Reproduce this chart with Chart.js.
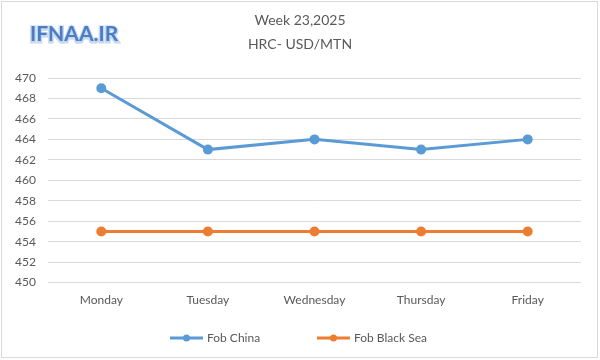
<!DOCTYPE html>
<html><head><meta charset="utf-8">
<script src="https://cdn.jsdelivr.net/npm/chart.js@4.4.1/dist/chart.umd.min.js"></script>
<style>html,body{margin:0;padding:0;background:#fff}#w{width:600px;height:360px;position:relative}</style>
</head><body><div id="w"><canvas id="c" width="600" height="360"></canvas></div>
<script>
const categories = ['Monday','Tuesday','Wednesday','Thursday','Friday'];
const fobChina = [469, 463, 464, 463, 464];
const fobBlackSea = [455, 455, 455, 455, 455];
const seriesNames = ['Fob China','Fob Black Sea'];
const titleLines = ['Week 23,2025','HRC- USD/MTN'];
const watermark = 'IFNAA.IR';
const colors = ['#5B9BD5','#ED7D31'];
const FONT = 'Lato, "Open Sans", sans-serif';

const deco = {
  id:'deco',
  afterDraw(chart){
    const ctx = chart.ctx;
    ctx.save();
    ctx.strokeStyle = '#d9d9d9'; ctx.lineWidth = 1;
    ctx.strokeRect(1.5,1.5,596,356);
    ctx.fillStyle = '#595959';
    ctx.font = '14px ' + FONT;
    ctx.textAlign = 'center'; ctx.textBaseline = 'middle';
    ctx.fillText(titleLines[0], 300, 20);
    ctx.fillText(titleLines[1], 300, 44);
    ctx.font = 'bold 21px ' + FONT;
    ctx.textAlign = 'left';
    ctx.lineWidth = 3; ctx.strokeStyle = '#c8d8ee';
    ctx.strokeText(watermark, 30, 35);
    ctx.fillStyle = '#4a7ec4';
    ctx.fillText(watermark, 30, 34);
    ctx.font = '12px ' + FONT;
    const items = [[170, 0],[317, 1]];
    items.forEach(([x,i])=>{
      ctx.strokeStyle = colors[i]; ctx.lineWidth = 3;
      ctx.beginPath(); ctx.moveTo(x, 338); ctx.lineTo(x+33, 338); ctx.stroke();
      ctx.fillStyle = colors[i];
      ctx.beginPath(); ctx.arc(x+16.5, 338, 3.5, 0, Math.PI*2); ctx.fill();
      ctx.fillStyle = '#595959'; ctx.textAlign='left';
      ctx.fillText(seriesNames[i], x+37, 338);
    });
    ctx.restore();
  }
};

new Chart(document.getElementById('c'), {
  type:'line',
  data:{ labels:categories, datasets:[
    {label:seriesNames[0], data:fobChina, borderColor:colors[0], backgroundColor:colors[0], borderWidth:3, pointRadius:3.5, pointHoverRadius:3.5, tension:0},
    {label:seriesNames[1], data:fobBlackSea, borderColor:colors[1], backgroundColor:colors[1], borderWidth:3, pointRadius:3.5, pointHoverRadius:3.5, tension:0}
  ]},
  options:{
    responsive:false, animation:false,
    layout:{padding:{top:78, right:19, bottom:51, left:10}},
    plugins:{legend:{display:false}, title:{display:false}, tooltip:{enabled:false}},
    scales:{
      x:{offset:true, grid:{display:false}, border:{display:false},
         ticks:{color:'#595959', font:{family:FONT, size:12}, padding:2}},
      y:{min:450, max:470, ticks:{stepSize:2, color:'#595959', font:{family:FONT, size:12}, padding:12},
         grid:{color:'#d9d9d9', drawTicks:false}, border:{display:false},
         afterFit(s){ s.width = 38; }}
    }
  },
  plugins:[deco]
});
</script></body></html>
